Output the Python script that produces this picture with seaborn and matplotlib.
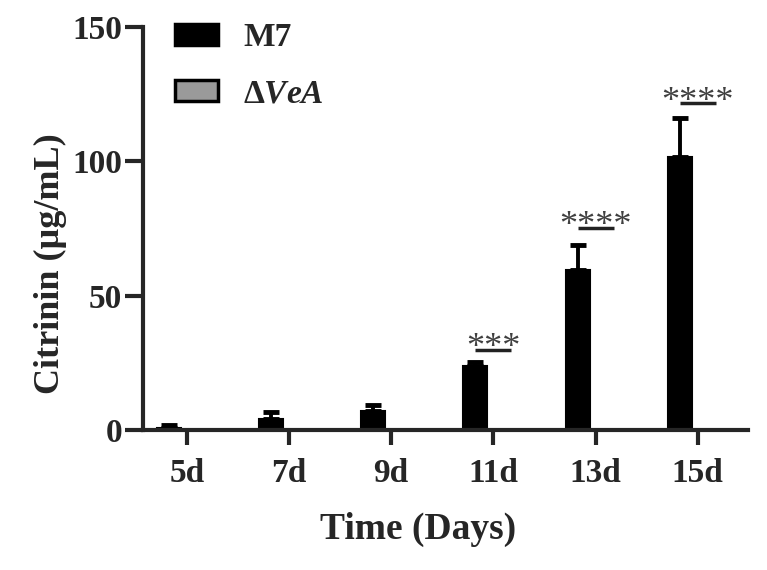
import numpy as np
import pandas as pd
import seaborn as sns
import matplotlib
matplotlib.use("Agg")
import matplotlib.pyplot as plt
from matplotlib.patches import Patch

days = ["5d", "7d", "9d", "11d", "13d", "15d"]
m7_mean = [0.6, 4.0, 7.0, 23.8, 59.5, 101.5]
m7_sd = [1.4, 2.6, 2.3, 1.5, 9.5, 14.5]
vea_mean = [0.0, 0.0, 0.0, 0.0, 0.0, 0.0]
vea_sd = [0.0, 0.0, 0.0, 0.0, 0.0, 0.0]
sig_idx = [3, 4, 5]
sig_line = [29.8, 75.2, 121.7]
sig_text = ["***", "****", "****"]

sns.set_style("ticks")
plt.rcParams["font.family"] = ["Liberation Serif", "DejaVu Serif"]
plt.rcParams["font.weight"] = "bold"
plt.rcParams["mathtext.fontset"] = "custom"
plt.rcParams["mathtext.it"] = "Liberation Serif:italic:bold"
plt.rcParams["mathtext.rm"] = "Liberation Serif:bold"

df = pd.DataFrame({
    "day": days * 2,
    "strain": ["M7"] * 6 + ["VeA"] * 6,
    "value": m7_mean + vea_mean,
})

fig = plt.figure(figsize=(7.67, 5.70), dpi=100)
ax = fig.add_axes([0.1864, 0.2456, 0.975 - 0.1864, 0.9526 - 0.2456])

sns.barplot(data=df, x="day", y="value", hue="strain", order=days,
            hue_order=["M7", "VeA"], palette=["black", "#9a9a9a"],
            width=0.704, gap=0.33, errorbar=None, legend=False,
            edgecolor="black", linewidth=1.5, ax=ax)

# one-sided error bars
for cont, sd in zip(ax.containers, [m7_sd, vea_sd]):
    xs = [p.get_x() + p.get_width() / 2 for p in cont]
    hs = [p.get_height() for p in cont]
    ax.errorbar(xs, hs, yerr=[np.zeros(len(sd)), sd], fmt="none",
                ecolor="black", elinewidth=2.8, capsize=6, capthick=3.5,
                zorder=1)

# significance marks
m7_x = [p.get_x() + p.get_width() / 2 for p in ax.containers[0]]
vea_x = [p.get_x() + p.get_width() / 2 for p in ax.containers[1]]
for i, yl, txt in zip(sig_idx, sig_line, sig_text):
    ax.plot([m7_x[i], vea_x[i]], [yl, yl], color="#222222", lw=2.5,
            solid_capstyle="butt")
    ax.text(i, yl - 2.8, txt, ha="center", va="baseline", fontsize=26,
            fontweight="normal", color="#404040")

ax.set_xlim(-0.43, 5.49)
ax.set_ylim(0, 150)
ax.set_yticks([0, 50, 100, 150])
ax.set_xlabel("Time (Days)", fontsize=27, fontweight="bold")
ax.set_ylabel("Citrinin (\u00b5g/mL)", fontsize=26, fontweight="bold")
ax.xaxis.set_label_coords(0.455, -0.203)
ax.yaxis.set_label_coords(-0.125, 0.414)
ax.tick_params(axis="both", width=3, labelsize=24)
ax.tick_params(axis="y", length=13, pad=2)
ax.tick_params(axis="x", length=11, pad=9)
for lab in ax.get_xticklabels() + ax.get_yticklabels():
    lab.set_fontweight("bold")
for s in ["left", "bottom"]:
    ax.spines[s].set_linewidth(3)
for s in ["top", "right"]:
    ax.spines[s].set_visible(False)
ax.spines["left"].set_capstyle("projecting")

handles = [Patch(facecolor="black", edgecolor="black", linewidth=2.5),
           Patch(facecolor="#9a9a9a", edgecolor="black", linewidth=2.5)]
leg = ax.legend(handles, ["M7", "\u0394$\\mathit{VeA}$"], loc="upper left",
                bbox_to_anchor=(175 / 767, 1 - 22 / 570),
                bbox_transform=fig.transFigure, frameon=False,
                borderpad=0, borderaxespad=0,
                handlelength=1.3, handleheight=0.58, handletextpad=0.75,
                labelspacing=0.76, prop={"weight": "bold", "size": 24})

fig.savefig("out.png", dpi=100)
